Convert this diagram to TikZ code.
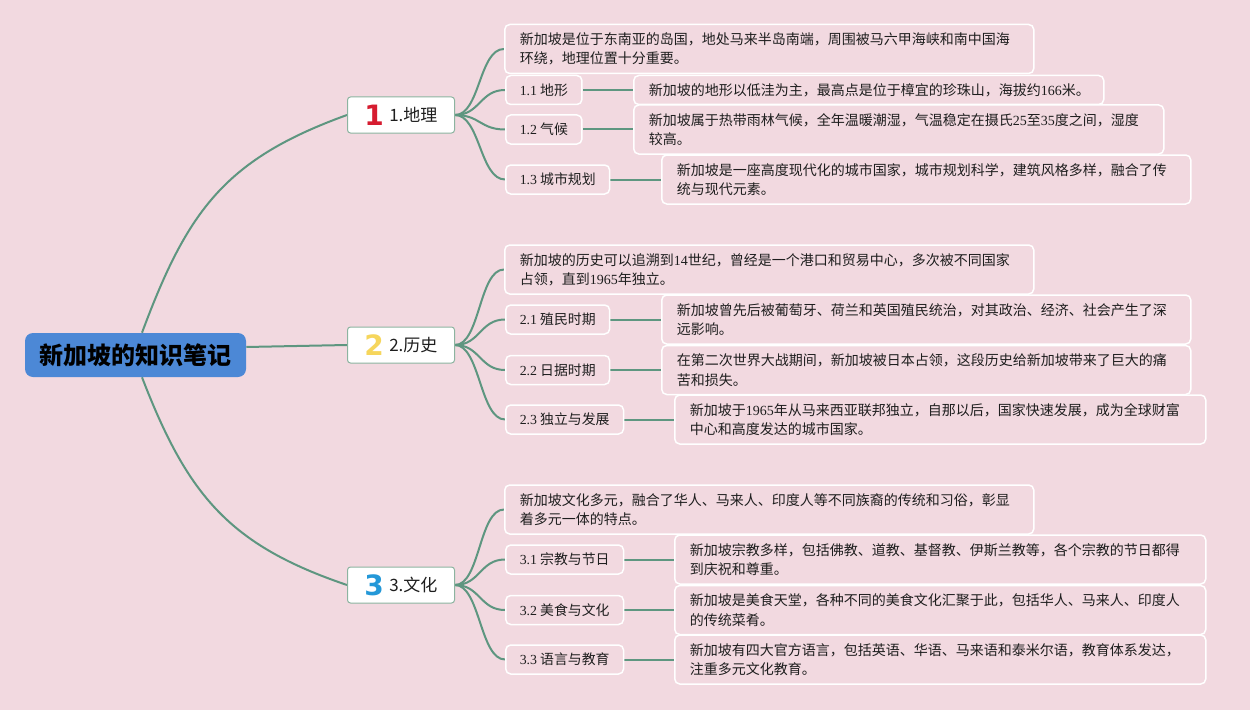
\documentclass[tikz,border=0pt]{standalone}
\usepackage{fontspec}
\setmainfont{Noto Sans CJK SC}
\newfontfamily\lat{Liberation Serif}
\newfontfamily\numfont{DejaVu Sans}
\newdimen\px \px=0.75pt
\definecolor{bgpink}{RGB}{242,217,224}
\definecolor{edgegreen}{RGB}{94,150,128}
\definecolor{lvlborder}{RGB}{140,180,160}
\definecolor{rootblue}{RGB}{76,136,214}
\definecolor{numred}{RGB}{214,28,48}
\definecolor{numyellow}{RGB}{246,214,92}
\definecolor{numblue}{RGB}{36,152,216}
\definecolor{txt}{RGB}{30,30,30}
\pgfdeclarelayer{back}\pgfdeclarelayer{bg}\pgfsetlayers{back,bg,main}
\tikzset{
 rootbox/.style={fill=rootblue, rounded corners=8\px, minimum width=221\px, minimum height=44\px, font=\fontsize{18pt}{20pt}\selectfont\bfseries, text=black, inner sep=0pt},
 topicbox/.style={fill=white, draw=lvlborder, line width=1\px, rounded corners=3\px, minimum width=107\px, minimum height=36\px, anchor=west, inner sep=0pt},
 topictext/.style={anchor=west, font=\fontsize{12.75pt}{14pt}\selectfont, text=txt, inner sep=0pt},
 numtext/.style={anchor=center, font=\numfont\bfseries\fontsize{21pt}{22pt}\selectfont, inner sep=0pt},
 subbox/.style={draw=white, line width=1.5\px, rounded corners=5\px, minimum height=29\px, inner xsep=14\px, inner ysep=0pt, anchor=west, font=\fontsize{10.4pt}{14pt}\selectfont, text=txt},
 leafbox/.style={draw=white, line width=1.5\px, rounded corners=5\px, inner xsep=15\px, inner ysep=3\px, minimum height=49\px, anchor=west, align=left, font=\fontsize{10.5pt}{14.5pt}\selectfont, text=txt},
 link/.style={draw=edgegreen, line width=2\px},
}
\begin{document}
\begin{tikzpicture}[x=0.75pt,y=-0.75pt]
\useasboundingbox (0,0) rectangle (1250,710);
\begin{pgfonlayer}{back}
\fill[bgpink] (0,0) rectangle (1250,710);
\end{pgfonlayer}

% root
\node[rootbox] (root) at (135.5,355) {新加坡的知识笔记};

% topics
\node[topicbox] (g) at (347,115) {};
\node[numtext,text=numred] (gn) at (374,115) {1};
\node[topictext] (gt) at (389,115) {1.地理};

\node[topicbox] (h) at (347,345) {};
\node[numtext,text=numyellow] (hn) at (374,345) {2};
\node[topictext] (ht) at (389,345) {2.历史};

\node[topicbox] (c) at (347,585) {};
\node[numtext,text=numblue] (cn) at (374,585) {3};
\node[topictext] (ct) at (389,585) {3.文化};

% geography
\node[leafbox,text width=499\px] (ga) at (504,49) {新加坡是位于东南亚的岛国，地处马来半岛南端，周围被马六甲海峡和南中国海\\环绕，地理位置十分重要。};
\node[subbox] (g1) at (505,90) {{\lat 1.1} 地形};
\node[leafbox,text width=440\px,minimum height=29\px] (g1l) at (633,90) {新加坡的地形以低洼为主，最高点是位于樟宜的珍珠山，海拔约{\lat 166}米。};
\node[subbox] (g2) at (505,129.5) {{\lat 1.2} 气候};
\node[leafbox,text width=500\px] (g2l) at (633,129.5) {新加坡属于热带雨林气候，全年温暖潮湿，气温稳定在摄氏{\lat 25}至{\lat 35}度之间，湿度\\较高。};
\node[subbox] (g3) at (505,179.5) {{\lat 1.3} 城市规划};
\node[leafbox,text width=499\px] (g3l) at (661,179.5) {新加坡是一座高度现代化的城市国家，城市规划科学，建筑风格多样，融合了传\\统与现代元素。};

% history
\node[leafbox,text width=499\px] (ha) at (504,269.5) {新加坡的历史可以追溯到{\lat 14}世纪，曾经是一个港口和贸易中心，多次被不同国家\\占领，直到{\lat 1965}年独立。};
\node[subbox] (h1) at (505,319.5) {{\lat 2.1} 殖民时期};
\node[leafbox,text width=499\px] (h1l) at (661,319.5) {新加坡曾先后被葡萄牙、荷兰和英国殖民统治，对其政治、经济、社会产生了深\\远影响。};
\node[subbox] (h2) at (505,370) {{\lat 2.2} 日据时期};
\node[leafbox,text width=499\px] (h2l) at (661,370) {在第二次世界大战期间，新加坡被日本占领，这段历史给新加坡带来了巨大的痛\\苦和损失。};
\node[subbox] (h3) at (505,419.5) {{\lat 2.3} 独立与发展};
\node[leafbox,text width=501\px] (h3l) at (674,419.5) {新加坡于{\lat 1965}年从马来西亚联邦独立，自那以后，国家快速发展，成为全球财富\\中心和高度发达的城市国家。};

% culture
\node[leafbox,text width=499\px] (ca) at (504,509.5) {新加坡文化多元，融合了华人、马来人、印度人等不同族裔的传统和习俗，彰显\\着多元一体的特点。};
\node[subbox] (c1) at (505,559.5) {{\lat 3.1} 宗教与节日};
\node[leafbox,text width=501\px] (c1l) at (674,559.5) {新加坡宗教多样，包括佛教、道教、基督教、伊斯兰教等，各个宗教的节日都得\\到庆祝和尊重。};
\node[subbox] (c2) at (505,610) {{\lat 3.2} 美食与文化};
\node[leafbox,text width=501\px] (c2l) at (674,610) {新加坡是美食天堂，各种不同的美食文化汇聚于此，包括华人、马来人、印度人\\的传统菜肴。};
\node[subbox] (c3) at (505,659.5) {{\lat 3.3} 语言与教育};
\node[leafbox,text width=501\px] (c3l) at (674,659.5) {新加坡有四大官方语言，包括英语、华语、马来语和泰米尔语，教育体系发达，\\注重多元文化教育。};

\begin{pgfonlayer}{bg}
% root connectors
\draw[link] ([xshift=6.5\px]root.north) .. controls +(45.5,-122.2) and +(-122.2,44.2) .. (g.west);
\draw[link] ([yshift=8\px]root.east) -- (h.west);
\draw[link] ([xshift=6.5\px]root.south) .. controls +(45.5,118) and +(-118,-40) .. (c.west);
% topic fans
\foreach \p/\k in {g/ga,g/g1,g/g2,g/g3,h/ha,h/h1,h/h2,h/h3,c/ca,c/c1,c/c2,c/c3}{
  \draw[link] (\p.east) .. controls +(25,0) and +(-25,0) .. (\k.west);
}
% label to leaf
\foreach \a/\b in {g1/g1l,g2/g2l,g3/g3l,h1/h1l,h2/h2l,h3/h3l,c1/c1l,c2/c2l,c3/c3l}{
  \draw[link] (\a.east) -- (\b.west);
}
\end{pgfonlayer}
\end{tikzpicture}
\end{document}
